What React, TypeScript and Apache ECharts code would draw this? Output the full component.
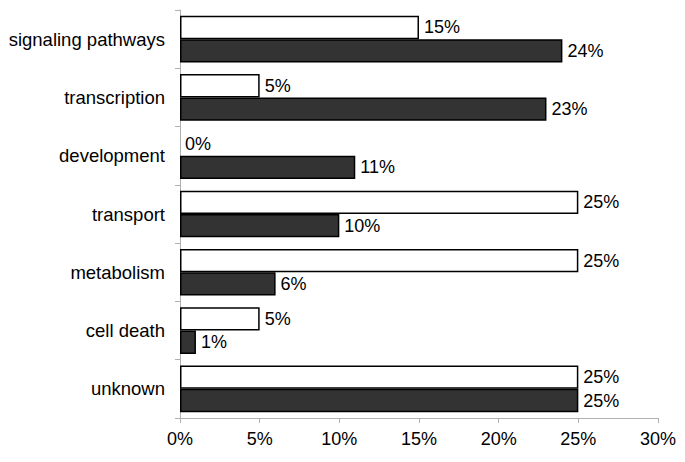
import React, { useEffect, useRef } from "react";
import * as echarts from "echarts";

const categories = ["signaling pathways", "transcription", "development", "transport", "metabolism", "cell death", "unknown"];
const whiteValues = [15, 5, 0, 25, 25, 5, 25];
const darkValues = [24, 23, 11, 10, 6, 1, 25];
const tickMax = 30;
const tickStep = 5;

export default function App() {
  const ref = useRef<HTMLDivElement>(null);
  useEffect(() => {
    const chart = echarts.init(ref.current!, undefined, { renderer: "svg" });
    const font = "Liberation Sans, Arial, sans-serif";
    const label = {
      show: true,
      position: "right",
      distance: 5,
      formatter: "{c}%",
      color: "#000",
      fontSize: 18,
      fontFamily: font,
    };
    const toData = (vals: number[]) =>
      vals.map((v) => (v === 0 ? { value: v, itemStyle: { borderWidth: 0 } } : v));
    chart.setOption({
      animation: false,
      grid: { left: 180, right: 27, top: 10, bottom: 44, containLabel: false },
      xAxis: {
        type: "value",
        min: 0,
        max: tickMax,
        interval: tickStep,
        axisLine: { show: true, lineStyle: { color: "#b0b0b0", width: 1 } },
        axisTick: { show: true, length: 5, lineStyle: { color: "#b0b0b0" } },
        splitLine: { show: false },
        axisLabel: { formatter: "{value}%", color: "#000", fontSize: 18, fontFamily: font, margin: 12 },
      },
      yAxis: {
        type: "category",
        data: categories,
        inverse: true,
        axisLine: { show: true, lineStyle: { color: "#b0b0b0", width: 1 } },
        axisTick: { show: true, length: 5, inside: false, alignWithLabel: false, lineStyle: { color: "#b0b0b0" } },
        axisLabel: { color: "#000", fontSize: 18.5, fontFamily: font, margin: 15 },
      },
      series: [
        {
          type: "bar",
          data: toData(whiteValues),
          barGap: "0%",
          barCategoryGap: "20%",
          itemStyle: { color: "#ffffff", borderColor: "#000", borderWidth: 1.5 },
          label,
        },
        {
          type: "bar",
          data: toData(darkValues),
          barGap: "0%",
          barCategoryGap: "20%",
          itemStyle: { color: "#333333", borderColor: "#000", borderWidth: 1.5 },
          label,
        },
      ],
    });
    return () => chart.dispose();
  }, []);
  return <div ref={ref} style={{ width: 685, height: 462, position: "absolute", left: 0, top: 0 }} />;
}
